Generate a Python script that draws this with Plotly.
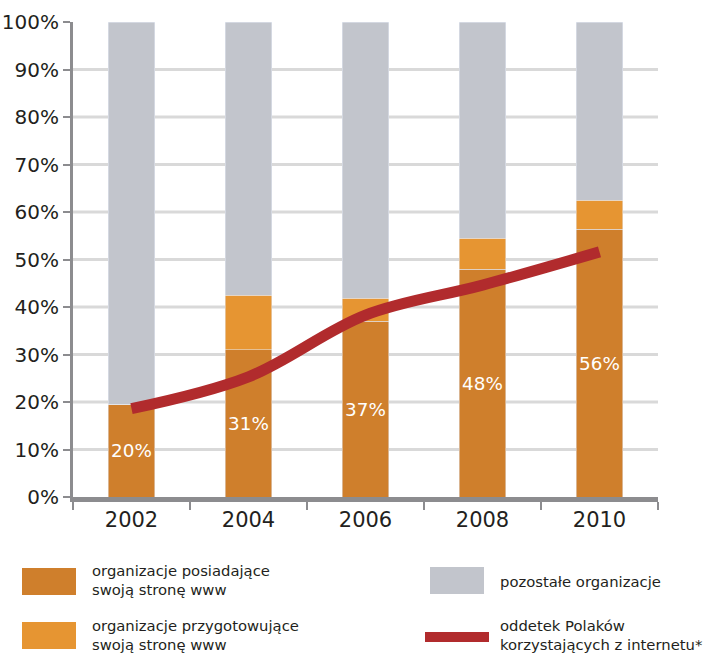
import plotly.graph_objects as go

years = ["2002", "2004", "2006", "2008", "2010"]
own_site = [19.5, 31.0, 37.0, 48.0, 56.4]
preparing = [0.0, 11.5, 4.8, 6.5, 6.1]
others = [80.5, 57.5, 58.2, 45.5, 37.5]
own_labels = ["20%", "31%", "37%", "48%", "56%"]
internet_users = [18.6, 25.3, 38.3, 44.6, 51.6]
grid_values = [10, 20, 30, 40, 50, 60, 70, 80, 90]

legend_names = [
    "organizacje posiadające<br>swoją stronę www",
    "organizacje przygotowujące<br>swoją stronę www",
    "pozostałe organizacje",
    "oddetek Polaków<br>korzystających z internetu*",
]

C_OWN = "#CF7F2C"
C_PREP = "#E69532"
C_REST = "#C2C5CC"
C_LINE = "#B12B2D"
C_AXIS = "#8C8C8F"
C_GRID = "#D9D9D9"
FONT = "DejaVu Sans"

W, H = 707, 655
ML, MR, MT, MB = 73, 49, 22, 158
PW = W - ML - MR
PH = H - MT - MB


def px(x):
    return (x - ML) / PW


def py(y):
    return (H - MB - y) / PH


fig = go.Figure()
fig.add_trace(go.Bar(x=years, y=own_site, marker_color=C_OWN, width=0.4,
                     text=own_labels, textposition="inside", insidetextanchor="middle",
                     textangle=0, textfont=dict(color="white", size=19, family=FONT),
                     showlegend=False, hoverinfo="skip"))
fig.add_trace(go.Bar(x=years, y=preparing, marker_color=C_PREP, width=0.4,
                     showlegend=False, hoverinfo="skip"))
fig.add_trace(go.Bar(x=years, y=others, marker_color=C_REST, width=0.4,
                     showlegend=False, hoverinfo="skip"))
fig.add_trace(go.Scatter(x=years, y=internet_users, mode="lines",
                         line=dict(color=C_LINE, width=11, shape="spline", smoothing=1.0),
                         showlegend=False, hoverinfo="skip"))

shapes = []
for g in grid_values:
    shapes.append(dict(type="line", xref="paper", yref="y", x0=0, x1=1, y0=g, y1=g,
                       line=dict(color=C_GRID, width=3), layer="below"))

# legend swatches
shapes.append(dict(type="rect", xref="paper", yref="paper", x0=px(22), x1=px(76),
                   y0=py(568), y1=py(595), fillcolor=C_OWN, line=dict(width=0)))
shapes.append(dict(type="rect", xref="paper", yref="paper", x0=px(22), x1=px(76),
                   y0=py(622), y1=py(649), fillcolor=C_PREP, line=dict(width=0)))
shapes.append(dict(type="rect", xref="paper", yref="paper", x0=px(430), x1=px(484),
                   y0=py(567), y1=py(594), fillcolor=C_REST, line=dict(width=0)))
shapes.append(dict(type="rect", xref="paper", yref="paper", x0=px(425), x1=px(489),
                   y0=py(632), y1=py(642), fillcolor=C_LINE, line=dict(width=0)))

annotations = []
leg_pos = [(92, 580), (92, 635), (500, 581), (500, 635)]
for name, (lx, ly) in zip(legend_names, leg_pos):
    annotations.append(dict(xref="paper", yref="paper", x=px(lx), y=py(ly), text=name,
                            showarrow=False, xanchor="left", yanchor="middle", align="left",
                            xshift=-1, borderpad=0,
                            font=dict(family=FONT, size=14.8, color="#231F20")))

fig.update_layout(
    width=W, height=H,
    margin=dict(l=ML, r=MR, t=MT, b=MB, pad=0, autoexpand=False),
    barmode="stack", bargap=0.6,
    plot_bgcolor="white", paper_bgcolor="white",
    font=dict(family=FONT, color="#231F20"),
    shapes=shapes, annotations=annotations,
    showlegend=False,
)
fig.update_xaxes(type="category", tickson="boundaries", ticks="outside", ticklen=8,
                 tickwidth=2, tickcolor=C_AXIS, showline=True, linecolor=C_AXIS,
                 linewidth=5, showgrid=False, automargin=False,
                 tickfont=dict(family=FONT, size=21, color="#231F20"))
fig.update_yaxes(range=[0, 100], dtick=10, ticksuffix="%", ticks="outside", ticklen=7,
                 tickwidth=2, tickcolor=C_AXIS, showline=True, linecolor=C_AXIS,
                 linewidth=3, showgrid=False, zeroline=False, automargin=False,
                 tickfont=dict(family=FONT, size=20, color="#231F20"))

fig.write_html("out.html", config={"displayModeBar": False},
               post_script="document.body.style.margin='0px';document.body.style.overflow='hidden';")
